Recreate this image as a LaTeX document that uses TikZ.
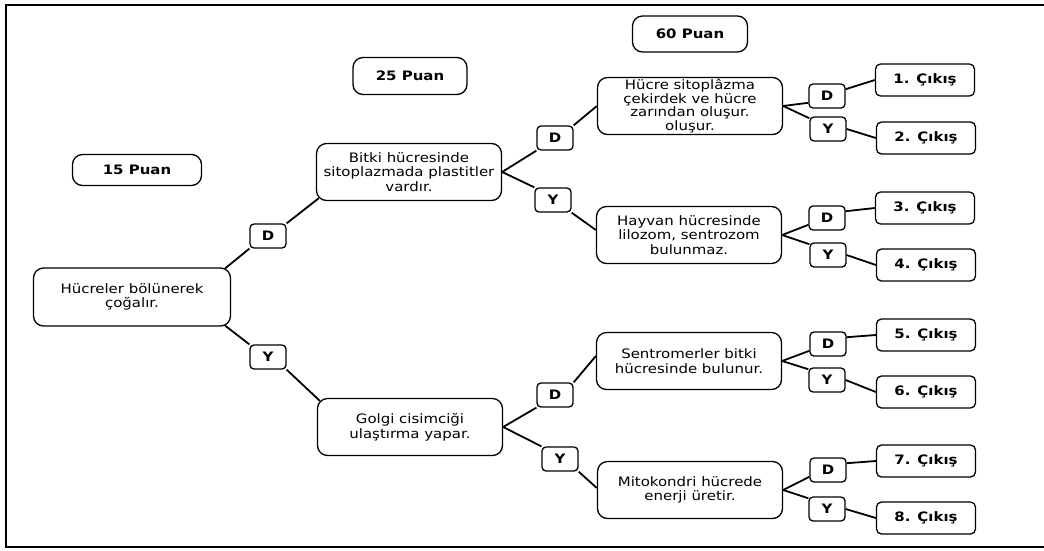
\documentclass[tikz,border=0pt]{standalone}
\usepackage{fontspec}
\setmainfont{DejaVu Sans}[FakeStretch=1.15]
\usetikzlibrary{positioning}
\newcommand{\basefont}{\fontsize{13}{14.5}\selectfont}
\tikzset{
  box/.style={draw, line width=1.3pt, align=center, inner sep=1pt},
  qbox/.style={box, rounded corners=10pt, minimum width=185pt, minimum height=57pt},
  puan/.style={box, rounded corners=10pt, font=\basefont\bfseries},
  yn/.style={box, rounded corners=4pt, minimum width=36pt, minimum height=24pt, font=\basefont\bfseries, inner sep=0pt},
  exitbox/.style={box, rounded corners=5pt, minimum width=99pt, minimum height=32pt, font=\basefont\bfseries},
  link/.style={line width=1.8pt}
}
\begin{document}
\begin{tikzpicture}[x=1pt, y=-1pt, font=\basefont]
\useasboundingbox (0,0) rectangle (1044,550);
\draw[line width=2pt] (6,5) rectangle (1060,547);

% score headers
\node[puan, minimum width=129pt, minimum height=31pt] (p15) at (137,170) {15 Puan};
\node[puan, minimum width=114pt, minimum height=37pt] (p25) at (410,76) {25 Puan};
\node[puan, minimum width=115pt, minimum height=36pt] (p60) at (690,34) {60 Puan};

% level 1
\node[qbox, minimum width=197pt, minimum height=58pt] (root) at (132,297) {Hücreler bölünerek\\çoğalır.};
\node[yn] (dR) at (268,236) {D};
\node[yn] (yR) at (268,357) {Y};

% level 2
\node[qbox] (bitki) at (409,172) {Bitki hücresinde\\sitoplazmada plastitler\\vardır.};
\node[qbox] (golgi) at (410,427) {Golgi cisimciği\\ulaştırma yapar.};
\node[yn] (dB) at (555,138) {D};
\node[yn] (yB) at (553,200) {Y};
\node[yn] (dG) at (555,395) {D};
\node[yn] (yG) at (560,459) {Y};

% level 3
\node[qbox, font=\fontsize{13}{13.6}\selectfont] (q1) at (690,106) {Hücre sitoplâzma\\çekirdek ve hücre\\zarından oluşur.\\oluşur.};
\node[qbox] (q2) at (689,235) {Hayvan hücresinde\\lilozom, sentrozom\\bulunmaz.};
\node[qbox] (q3) at (689,361) {Sentromerler bitki\\hücresinde bulunur.};
\node[qbox] (q4) at (690,490) {Mitokondri hücrede\\enerji üretir.};

\node[yn] (d1) at (827,96) {D};
\node[yn] (y1) at (828,129) {Y};
\node[yn] (d2) at (827,218) {D};
\node[yn] (y2) at (828,255) {Y};
\node[yn] (d3) at (828,344) {D};
\node[yn] (y3) at (827,380) {Y};
\node[yn] (d4) at (828,470) {D};
\node[yn] (y4) at (827,509) {Y};

% outcomes
\node[exitbox] (c1) at (925,80) {1. Çıkış};
\node[exitbox] (c2) at (926,138) {2. Çıkış};
\node[exitbox] (c3) at (925,208) {3. Çıkış};
\node[exitbox] (c4) at (926,265) {4. Çıkış};
\node[exitbox] (c5) at (926,335) {5. Çıkış};
\node[exitbox] (c6) at (926,392) {6. Çıkış};
\node[exitbox] (c7) at (926,461) {7. Çıkış};
\node[exitbox] (c8) at (926,518) {8. Çıkış};

% connectors
\draw[link] ([xshift=-6pt, yshift=-1pt]root.north east) -- (dR.south west);
\draw[link] (dR.north east) -- ([xshift=3pt, yshift=3pt]bitki.south west);
\draw[link] ([xshift=-6pt, yshift=1pt]root.south east) -- (yR.north west);
\draw[link] (yR.south east) -- ([xshift=3pt, yshift=-3pt]golgi.north west);

\draw[link] (bitki.east) -- (dB.south west);
\draw[link] (dB.north east) -- (q1.west);
\draw[link] (bitki.east) -- (yB.north west);
\draw[link] (yB.south east) -- ([yshift=5pt]q2.west);

\draw[link] (golgi.east) -- (dG.south west);
\draw[link] (dG.north east) -- ([yshift=5pt]q3.west);
\draw[link] (golgi.east) -- (yG.north west);
\draw[link] (yG.south east) -- ([yshift=2pt]q4.west);

\foreach \q/\d/\y/\ca/\cb in {q1/d1/y1/c1/c2, q2/d2/y2/c3/c4, q3/d3/y3/c5/c6, q4/d4/y4/c7/c8}{
  \draw[link] (\q.east) -- (\d.200);
  \draw[link] (\d.20) -- (\ca.west);
  \draw[link] (\q.east) -- (\y.150);
  \draw[link] (\y.east) -- (\cb.west);
}
\end{tikzpicture}
\end{document}
